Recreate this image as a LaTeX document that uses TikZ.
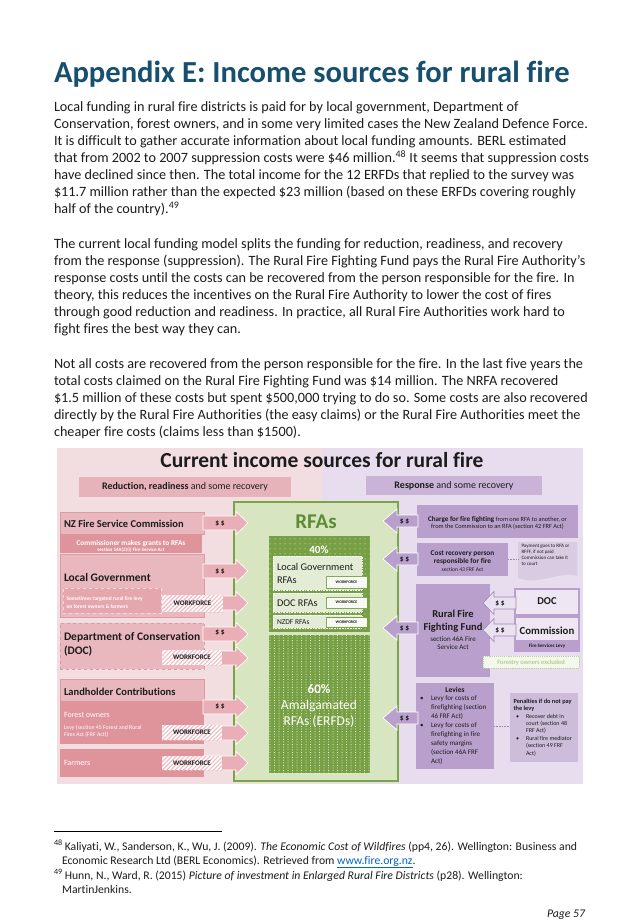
\documentclass[tikz,border=0pt]{standalone}
\usepackage{fontspec}
\setmainfont{Carlito}[Ligatures={NoCommon}]
\usetikzlibrary{patterns.meta,fit}
\definecolor{ttl}{HTML}{17506E}
\definecolor{txt}{HTML}{1C1C1C}
\definecolor{pinkbg}{HTML}{F2DDE1}
\definecolor{lavbg}{HTML}{E7DDEE}
\definecolor{pinkbox}{HTML}{E8B8BE}
\definecolor{pinkline}{HTML}{DC9AA3}
\definecolor{pinkdark}{HTML}{DF949C}
\definecolor{pinkhead}{HTML}{E6B3BA}
\definecolor{pinksub}{HTML}{E5A6AE}
\definecolor{pinksubline}{HTML}{F5DADD}
\definecolor{pinkarr}{HTML}{E9AEB6}
\definecolor{hatch}{HTML}{F0BCC3}
\definecolor{purp}{HTML}{B9A0CC}
\definecolor{purphead}{HTML}{C9B4D8}
\definecolor{purplight}{HTML}{EEE7F3}
\definecolor{purpnote}{HTML}{D8CBE2}
\definecolor{purppen}{HTML}{CDBDDB}
\definecolor{purpsmall}{HTML}{EAE2F0}
\definecolor{purpsmline}{HTML}{9E86B3}
\definecolor{grnbg}{HTML}{D8E5C1}
\definecolor{grnline}{HTML}{79A546}
\definecolor{grndark}{HTML}{76A043}
\definecolor{grnlight}{HTML}{E3EDD5}
\definecolor{grnpat}{HTML}{C5DBA8}
\definecolor{grntxt}{HTML}{5E8C31}
\definecolor{forestbg}{HTML}{F4F7EC}
\definecolor{forestln}{HTML}{B8D492}
\definecolor{forestx}{HTML}{9CC26A}
\definecolor{linkblue}{HTML}{0563C1}
\newcommand\fsz[1]{\fontsize{#1}{#1}\selectfont}
\newcommand\bx[6][]{\node[fit={(#3,#4) (#5,#6)},inner sep=0pt,outer sep=0pt,#1] (#2) {};}
\newcommand\pinkarrow[1]{\path[fill=pinkarr,draw=white,line width=0.7pt] (203,#1-7) -- (236,#1-7) -- (236,#1-11.5) -- (248,#1) -- (236,#1+11.5) -- (236,#1+7) -- (203,#1+7) -- cycle;}
\newcommand\purparrow[1]{\path[fill=purp,draw=white,line width=0.7pt] (418,#1-6) -- (397,#1-6) -- (397,#1-12) -- (383,#1) -- (397,#1+12) -- (397,#1+6) -- (418,#1+6) -- cycle;}
\newcommand\smallparrow[1]{\path[fill=purpsmall,draw=purpsmline,line width=0.6pt] (516,#1-6) -- (494,#1-6) -- (494,#1-11.5) -- (483,#1) -- (494,#1+11.5) -- (494,#1+6) -- (516,#1+6) -- cycle;}
\pgfdeclarepattern{
  name=vdots, type=uncolored,
  bottom left={\pgfpoint{-1pt}{-1pt}}, top right={\pgfpoint{1pt}{1pt}},
  tile size={\pgfpoint{4.5pt}{2.6pt}},
  code={\pgfpathcircle{\pgfpointorigin}{0.5pt}\pgfusepath{fill}}
}
\begin{document}
\begin{tikzpicture}[x=1pt,y=-1pt,
  every node/.style={inner sep=0pt,outer sep=0pt,text=txt},
  body/.style={anchor=base west,font=\fsz{14.2}},
  foot/.style={anchor=base west,font=\fsz{11.7}},
  hatchbox/.style={fill=white,postaction={pattern={Lines[angle=45,distance=3pt,line width=1.1pt]},pattern color=hatch}},
  wfsmall/.style={fill=white,draw=grndark,line width=0.8pt,postaction={pattern={Dots[radius=0.3pt,distance=1.6pt]},pattern color=grnpat}},
  lgbox/.style={fill=grnlight,draw=white,densely dotted,line width=0.6pt},
  dollar/.style={font=\bfseries\fsz{7.5}},
  wftxt/.style={font=\bfseries\fsz{7}},
  wfsm/.style={font=\bfseries\fsz{4}},
  ]
\path[use as bounding box,fill=white] (0,0) rectangle (637,924);

% ---------- page text ----------
\node[anchor=base west,font=\bfseries\fsz{30.6},text=ttl] (title) at (54,82) {Appendix E: Income sources for rural fire};

\node[body] (p1a) at (54,111)   {Local funding in rural fire districts is paid for by local government, Department of};
\node[body] (p1b) at (54,128.2) {Conservation, forest owners, and in some very limited cases the New Zealand Defence Force.};
\node[body] (p1c) at (54,145.3) {It is difficult to gather accurate information about local funding amounts. BERL estimated};
\node[body] (p1d) at (54,162.5) {that from 2002 to 2007 suppression costs were \$46 million.\textsuperscript{48} It seems that suppression costs};
\node[body] (p1e) at (54,179.6) {have declined since then. The total income for the 12 ERFDs that replied to the survey was};
\node[body] (p1f) at (54,196.8) {\$11.7 million rather than the expected \$23 million (based on these ERFDs covering roughly};
\node[body] (p1g) at (54,213.9) {half of the country).\textsuperscript{49}};

\node[body] (p2a) at (54,248.2) {The current local funding model splits the funding for reduction, readiness, and recovery};
\node[body] (p2b) at (54,265.3) {from the response (suppression). The Rural Fire Fighting Fund pays the Rural Fire Authority’s};
\node[body] (p2c) at (54,282.5) {response costs until the costs can be recovered from the person responsible for the fire. In};
\node[body] (p2d) at (54,299.6) {theory, this reduces the incentives on the Rural Fire Authority to lower the cost of fires};
\node[body] (p2e) at (54,316.8) {through good reduction and readiness. In practice, all Rural Fire Authorities work hard to};
\node[body] (p2f) at (54,333.9) {fight fires the best way they can.};

\node[body] (p3a) at (54,368.2) {Not all costs are recovered from the person responsible for the fire. In the last five years the};
\node[body] (p3b) at (54,385.3) {total costs claimed on the Rural Fire Fighting Fund was \$14 million. The NRFA recovered};
\node[body] (p3c) at (54,402.5) {\$1.5 million of these costs but spent \$500,000 trying to do so. Some costs are also recovered};
\node[body] (p3d) at (54,419.6) {directly by the Rural Fire Authorities (the easy claims) or the Rural Fire Authorities meet the};
\node[body] (p3e) at (54,436.8) {cheaper fire costs (claims less than \$1500).};

% ---------- footnotes ----------
\draw[line width=0.5pt] (54,831) -- (222,831);
\node[foot] (f48a) at (54,850) {\textsuperscript{48}\,Kaliyati, W., Sanderson, K., Wu, J. (2009). \textit{The Economic Cost of Wildfires} (pp4, 26). Wellington: Business and};
\node[foot] (f48b) at (62,864) {Economic Research Ltd (BERL Economics). Retrieved from \textcolor{linkblue}{\underline{www.fire.org.nz}}.};
\node[foot] (f49a) at (54,879) {\textsuperscript{49}\,Hunn, N., Ward, R. (2015) \textit{Picture of investment in Enlarged Rural Fire Districts} (p28). Wellington:};
\node[foot] (f49b) at (62,893) {MartinJenkins.};
\node[anchor=base east,font=\itshape\fsz{11.7}] (pg) at (585,917) {Page 57};

% ---------- diagram backgrounds ----------
\bx[fill=pinkbg]{bgl}{57}{448}{322}{784}
\bx[fill=lavbg]{bgr}{322}{448}{583}{784}
\node[anchor=base,font=\bfseries\fsz{21.5}] (dtitle) at (322,467) {Current income sources for rural fire};
\bx[fill=pinkhead]{redbox}{79}{477}{291}{497}
\node[anchor=mid,font=\fsz{10}] (redtxt) at (185,487) {\textbf{Reduction, readiness} and some recovery};
\bx[fill=purphead]{respbox}{366}{476}{542}{495}
\node[anchor=mid,font=\fsz{10}] (resptxt) at (454,486) {\textbf{Response} and some recovery};

% ---------- RFA block ----------
\bx[fill=grnbg,draw=grnline,line width=1.6pt]{rfa}{234}{502}{398}{781}
\node[anchor=base,font=\bfseries\fsz{21},text=grntxt] (rfat) at (316,528) {RFAs};
\bx[fill=grndark,postaction={pattern={Dots[radius=0.5pt,distance=5pt]},pattern color=white}]{p40}{269}{536}{370}{632}
\node[anchor=base,font=\bfseries\fsz{11},text=white] (t40) at (319,553) {40\%};
\bx[lgbox]{lgrfa}{273}{556}{362}{590}
\node[anchor=base west,font=\fsz{10.3}] (lgr1) at (277,570.5) {Local Government};
\node[anchor=base west,font=\fsz{10.3}] (lgr2) at (277,583.5) {RFAs};
\bx[wfsmall]{wf1}{326}{576}{367}{588}
\node[wfsm] (wf1t) at (wf1.center) {WORKFORCE};
\bx[lgbox]{docrfa}{273}{593}{362}{612}
\node[anchor=base west,font=\fsz{10.3}] (docr1) at (277,606) {DOC RFAs};
\bx[wfsmall]{wf2}{326}{597}{367}{608}
\node[wfsm] (wf2t) at (wf2.center) {WORKFORCE};
\bx[lgbox]{nzdfrfa}{273}{615}{362}{628}
\node[anchor=base west,font=\fsz{7.5}] (nzdf1) at (277,624.5) {NZDF RFAs};
\bx[wfsmall]{wf3}{326}{617}{367}{627}
\node[wfsm] (wf3t) at (wf3.center) {WORKFORCE};
\bx[fill=grndark,postaction={pattern=vdots,pattern color=white}]{p60}{269}{635}{370}{773}
\node[anchor=base,font=\bfseries\fsz{13},text=white] (t60) at (319,693) {60\%};
\node[anchor=base,font=\fsz{13.5},text=white] (t60b) at (319,709) {Amalgamated};
\node[anchor=base,font=\fsz{13.5},text=white] (t60c) at (319,725) {RFAs (ERFDs)};

% ---------- left sources ----------
\bx[fill=pinkbox,draw=pinkline,line width=0.6pt]{nzfsc}{60}{512}{204}{534}
\bx[fill=pinkdark]{nzfscb}{60}{534}{202}{553}
\node[anchor=base west,font=\bfseries\fsz{10.5}] (nzfsct) at (64,527) {NZ Fire Service Commission};
\node[anchor=base,font=\bfseries\fsz{7.3},text=white] (cmg1) at (131,545) {Commissioner makes grants to RFAs};
\node[anchor=base,font=\bfseries\fsz{5},text=white] (cmg2) at (131,551.5) {section 14A(2)(i) Fire Service Act};

\bx[fill=pinkbox,draw=pinkline,line width=0.6pt]{lg}{60}{554}{204}{617}
\node[anchor=base west,font=\bfseries\fsz{11.5}] (lgt) at (64,581) {Local Government};
\bx[fill=pinksub,draw=pinksubline,dashed,line width=0.6pt]{lgsub}{63}{588}{161}{613}
\node[anchor=base west,font=\bfseries\fsz{5.4},text=white] (lgs1) at (66.5,600) {Sometimes targeted rural fire levy};
\node[anchor=base west,font=\bfseries\fsz{5.4},text=white] (lgs2) at (66.5,608) {on forest owners \& farmers};

\bx[fill=pinkbox,draw=pinkline,dashed,line width=0.8pt]{doc}{60}{623}{204}{669}
\node[anchor=base west,font=\bfseries\fsz{11.5}] (doct1) at (64,640) {Department of Conservation};
\node[anchor=base west,font=\bfseries\fsz{11.5}] (doct2) at (64,654) {(DOC)};

\bx[fill=pinkbox,draw=pinkline,line width=0.6pt]{land}{60}{679}{204}{701}
\bx[fill=pinkdark]{forest}{60}{701}{204}{744}
\node[anchor=base west,font=\bfseries\fsz{10.5}] (landt) at (64,695) {Landholder Contributions};
\node[anchor=base west,font=\fsz{8},text=white] (fo1) at (64,717) {Forest owners};
\node[anchor=base west,font=\fsz{5.8},text=white] (fo2) at (64,729) {Levy (section 45 Forest and Rural};
\node[anchor=base west,font=\fsz{5.8},text=white] (fo3) at (64,736.5) {Fires Act (FRF Act))};
\bx[fill=pinkdark]{farm}{60}{749}{204}{777}
\node[anchor=base west,font=\fsz{8},text=white] (farmt) at (64,765) {Farmers};

% pink arrows into RFAs
\pinkarrow{523}
\node[dollar] (d1) at (220,523) {\$ \$};
\pinkarrow{571}
\node[dollar] (d2) at (220,571) {\$ \$};
\pinkarrow{603}
\pinkarrow{634}
\node[dollar] (d3) at (220,632) {\$ \$};
\pinkarrow{658}
\pinkarrow{707}
\node[dollar] (d4) at (220,706) {\$ \$};
\pinkarrow{733}
\pinkarrow{763}

\bx[hatchbox]{wfa}{162}{595}{223}{612}
\node[wftxt] (wfat) at (wfa.center) {WORKFORCE};
\bx[hatchbox]{wfb}{162}{650}{222}{665}
\node[wftxt] (wfbt) at (wfb.center) {WORKFORCE};
\bx[hatchbox]{wfc}{162}{725}{222}{740}
\node[wftxt] (wfct) at (wfc.center) {WORKFORCE};
\bx[hatchbox]{wfd}{162}{756}{222}{770}
\node[wftxt] (wfdt) at (wfd.center) {WORKFORCE};

% ---------- right side ----------
\bx[fill=purp]{charge}{417}{505}{578}{538}
\node[anchor=base,font=\fsz{6.3}] (ch1) at (497.5,521) {{\bfseries\fsz{7.1}Charge for fire fighting} from one RFA to another, or};
\node[anchor=base,font=\fsz{6.3}] (ch2) at (497.5,528.5) {from the Commission to an RFA (section 42 FRF Act)};

\bx[fill=purp]{costrec}{417}{543}{508}{576}
\node[anchor=base,font=\bfseries\fsz{7.3}] (cr1) at (462.5,555) {Cost recovery person};
\node[anchor=base,font=\bfseries\fsz{7.3}] (cr2) at (462.5,563.5) {responsible for fire};
\node[anchor=base,font=\fsz{5.6}] (cr3) at (462.5,571) {section 43 FRF Act};

\fill[purpnote] (518,542) -- (577,542) -- (577,576) .. controls (562,570) and (540,586) .. (518,578) -- cycle;
\coordinate (notew) at (518,559);
\node[anchor=base west,font=\fsz{5}] (n1) at (521.5,547) {Payment goes to RFA or};
\node[anchor=base west,font=\fsz{5}] (n2) at (521.5,553) {RFFF, if not paid};
\node[anchor=base west,font=\fsz{5}] (n3) at (521.5,559) {Commission can take it};
\node[anchor=base west,font=\fsz{5}] (n4) at (521.5,565) {to court};
\draw[densely dotted,line width=0.6pt,draw=purpsmline] (costrec.east) -- (costrec.east -| notew);

\bx[fill=purp]{rfff}{416}{584}{490}{677}
\node[anchor=base,font=\bfseries\fsz{10.5}] (rf1) at (453,617.5) {Rural Fire};
\node[anchor=base,font=\bfseries\fsz{10.5}] (rf2) at (453,630.5) {Fighting Fund};
\node[anchor=base,font=\fsz{7}] (rf3) at (453,641.5) {section 46A Fire};
\node[anchor=base,font=\fsz{7}] (rf4) at (453,649.5) {Service Act};

\bx[fill=purplight,draw=purp,line width=1.8pt]{docr}{515}{589}{579}{615}
\node[anchor=mid,font=\bfseries\fsz{10.5}] (docrt) at (547,602) {DOC};
\bx[fill=purplight,draw=purp,line width=1.8pt]{comm}{515}{617}{579}{651}
\bx[fill=purp]{commb}{515}{640}{579}{651}
\node[anchor=base,font=\bfseries\fsz{10.8}] (commt) at (547,634) {Commission};
\node[anchor=base,font=\bfseries\fsz{5}] (commt2) at (547,647.5) {Fire Services Levy};

\smallparrow{603}
\node[dollar] (d7) at (500,603) {\$ \$};
\smallparrow{630}
\node[dollar] (d8) at (500,630) {\$ \$};

\bx[fill=forestbg,draw=forestln,densely dotted,line width=0.9pt]{forex}{483}{656}{579}{668}
\node[anchor=mid,font=\fsz{6.5},text=forestx] (forext) at (531,662) {Forestry owners excluded};

\bx[fill=purp]{levies}{416}{683}{494}{769}
\node[anchor=base,font=\bfseries\fsz{7.5}] (lv0) at (455,692) {Levies};
\node[anchor=base west,font=\fsz{7}] (lvb1) at (420,700.5) {•};
\node[anchor=base west,font=\fsz{7}] (lv1) at (431,700.5) {Levy for costs of};
\node[anchor=base west,font=\fsz{7}] (lv2) at (431,709.5) {firefighting (section};
\node[anchor=base west,font=\fsz{7}] (lv3) at (431,718.5) {46 FRF Act)};
\node[anchor=base west,font=\fsz{7}] (lvb2) at (420,727.5) {•};
\node[anchor=base west,font=\fsz{7}] (lv4) at (431,727.5) {Levy for costs of};
\node[anchor=base west,font=\fsz{7}] (lv5) at (431,736.5) {firefighting in fire};
\node[anchor=base west,font=\fsz{7}] (lv6) at (431,745.5) {safety margins};
\node[anchor=base west,font=\fsz{7}] (lv7) at (431,754.5) {(section 46A FRF};
\node[anchor=base west,font=\fsz{7}] (lv8) at (431,763.5) {Act)};

\bx[fill=purppen]{pen}{510}{693}{578}{762}
\draw[densely dotted,line width=0.6pt,draw=purpsmline] (levies.east) -- (levies.east -| pen.west);
\node[anchor=base west,font=\bfseries\fsz{6.3}] (pe1) at (513.5,703) {Penalties if do not pay};
\node[anchor=base west,font=\bfseries\fsz{6.3}] (pe2) at (513.5,710.5) {the levy};
\node[anchor=base west,font=\fsz{6}] (peb1) at (516,718) {•};
\node[anchor=base west,font=\fsz{6}] (pe3) at (526,718) {Recover debt in};
\node[anchor=base west,font=\fsz{6}] (pe4) at (526,725.4) {court (section 48};
\node[anchor=base west,font=\fsz{6}] (pe5) at (526,732.8) {FRF Act)};
\node[anchor=base west,font=\fsz{6}] (peb2) at (516,740.2) {•};
\node[anchor=base west,font=\fsz{6}] (pe6) at (526,740.2) {Rural fire mediator};
\node[anchor=base west,font=\fsz{6}] (pe7) at (526,747.6) {(section 49 FRF};
\node[anchor=base west,font=\fsz{6}] (pe8) at (526,755) {Act)};

% purple arrows into RFAs
\purparrow{521}
\node[dollar] (d5) at (404.5,521) {\$ \$};
\purparrow{559}
\node[dollar] (d6) at (404.5,559) {\$ \$};
\purparrow{628}
\node[dollar] (d9) at (404.5,628) {\$ \$};
\purparrow{718}
\node[dollar] (d10) at (404.5,718) {\$ \$};
\end{tikzpicture}
\end{document}
